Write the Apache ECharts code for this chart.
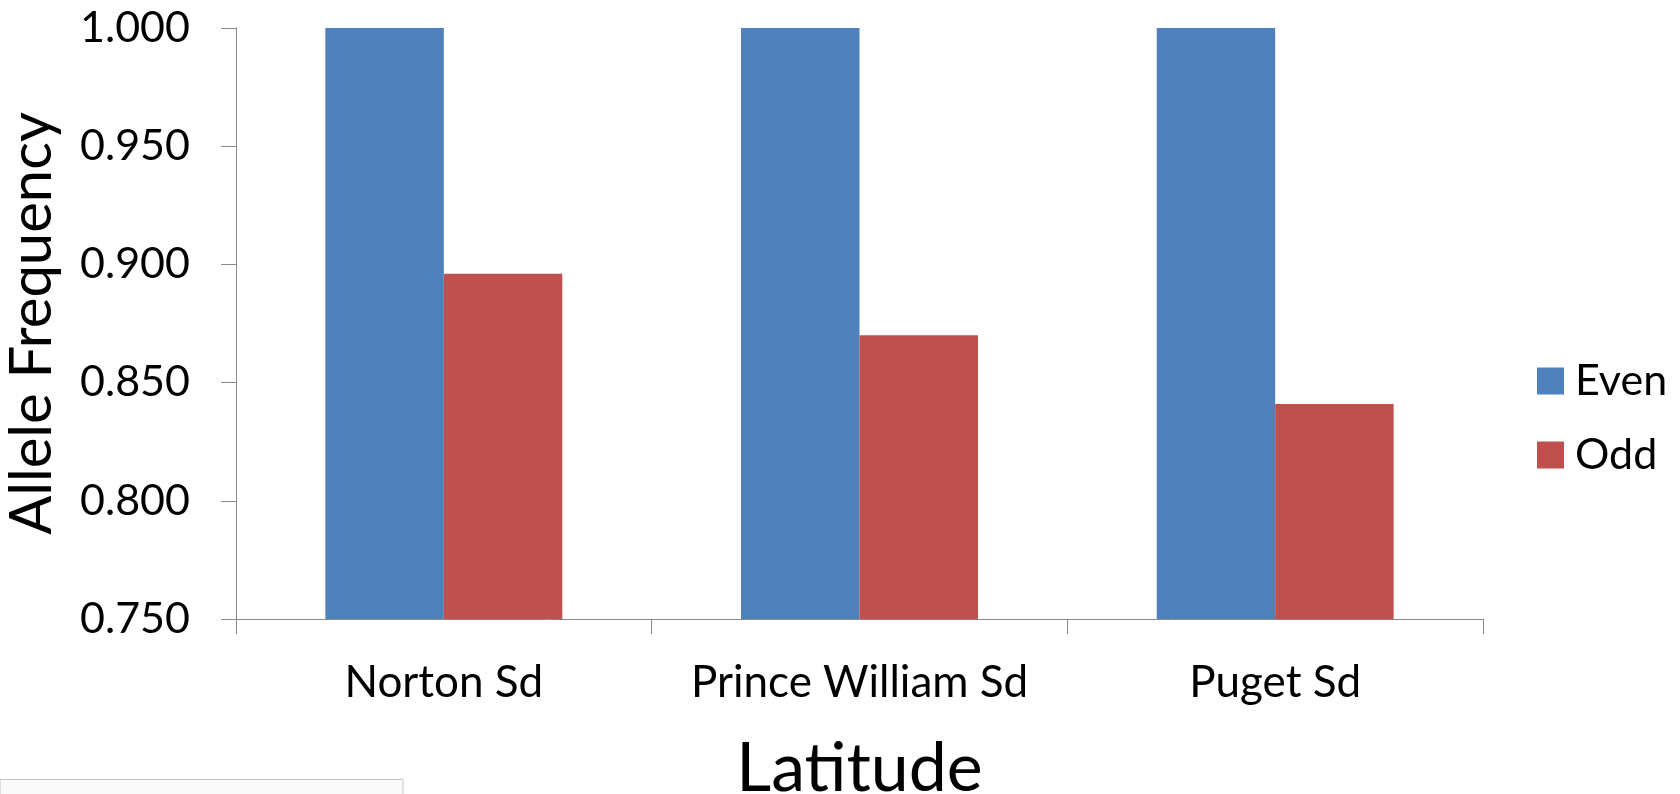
<!DOCTYPE html>
<html>
<head>
<meta charset="utf-8">
<script src="https://cdn.jsdelivr.net/npm/echarts@6/dist/echarts.min.js"></script>
<style>
  html, body { margin: 0; padding: 0; background: #ffffff; }
  #chart { width: 1680px; height: 794px; }
</style>
</head>
<body>
<div id="chart"></div>
<script>
// Allele frequency by sampling location
const categories = ['Norton Sd', 'Prince William Sd', 'Puget Sd'];
const evenValues = [1.000, 1.000, 1.000];
const oddValues = [0.896, 0.870, 0.841];
const yTicks = { min: 0.75, max: 1.0, step: 0.05 };

const FONT = 'Lato, "Open Sans", sans-serif';
const AXIS_COLOR = '#888888';

const chart = echarts.init(document.getElementById('chart'), null, { renderer: 'canvas' });

chart.setOption({
  backgroundColor: '#ffffff',
  animation: false,
  textStyle: { fontFamily: FONT, color: '#000000' },
  grid: {
    left: 236, right: 197, top: 28, bottom: 175,
    containLabel: false,
    outerBoundsMode: 'none'
  },
  legend: {
    orient: 'vertical',
    left: 1532,
    top: 352,
    itemWidth: 27,
    itemHeight: 27,
    itemGap: 26,
    icon: 'rect',
    textStyle: { fontFamily: FONT, fontSize: 43, lineHeight: 48, color: '#000000', padding: [0, 0, 0, 6] },
    data: ['Even', 'Odd']
  },
  xAxis: {
    type: 'category',
    data: categories,
    name: 'Latitude',
    nameLocation: 'middle',
    nameGap: 116,
    nameTextStyle: { fontFamily: FONT, fontSize: 68, color: '#000000' },
    axisLine: { lineStyle: { color: AXIS_COLOR, width: 1 } },
    axisTick: { show: true, length: 15, inside: false, lineStyle: { color: AXIS_COLOR } },
    axisLabel: { fontFamily: FONT, fontSize: 44, color: '#000000', margin: 42, interval: 0 },
    splitLine: { show: false }
  },
  yAxis: {
    type: 'value',
    min: yTicks.min,
    max: yTicks.max,
    interval: yTicks.step,
    name: 'Allele Frequency',
    nameLocation: 'middle',
    nameRotate: 90,
    nameGap: 175,
    nameTextStyle: { fontFamily: FONT, fontSize: 58, color: '#000000' },
    axisLine: { show: true, lineStyle: { color: AXIS_COLOR, width: 1 } },
    axisTick: { show: true, length: 15, inside: false, lineStyle: { color: AXIS_COLOR } },
    axisLabel: {
      fontFamily: FONT, fontSize: 43, color: '#000000', margin: 46,
      formatter: v => v.toFixed(3)
    },
    splitLine: { show: false }
  },
  series: [
    {
      name: 'Even',
      type: 'bar',
      data: evenValues,
      barGap: '0%',
      barCategoryGap: '43%',
      itemStyle: { color: '#4F81BD' }
    },
    {
      name: 'Odd',
      type: 'bar',
      data: oddValues,
      barGap: '0%',
      barCategoryGap: '43%',
      itemStyle: { color: '#C0504D' }
    }
  ],
  graphic: [
    {
      type: 'rect',
      shape: { x: 0, y: 779.5, width: 403, height: 20 },
      style: { fill: '#fafafa', stroke: '#c4c4c4', lineWidth: 1 },
      silent: true
    }
  ]
});
</script>
</body>
</html>
